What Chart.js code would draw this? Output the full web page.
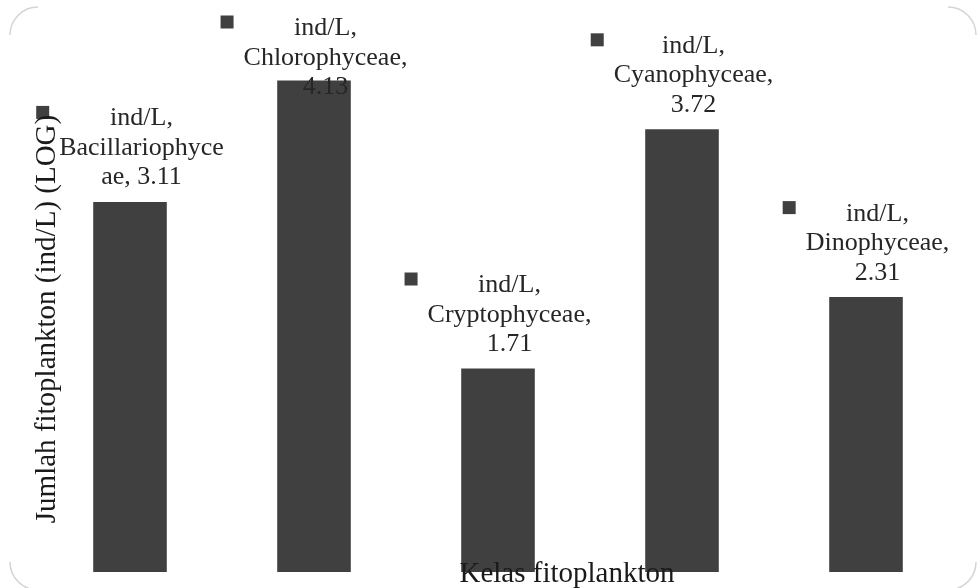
<!DOCTYPE html>
<html>
<head>
<meta charset="utf-8">
<script src="https://cdn.jsdelivr.net/npm/chart.js@4.4.1/dist/chart.umd.min.js"></script>
<style>
  html, body { margin: 0; padding: 0; background: #fff; }
  #wrap { width: 977px; height: 588px; }
</style>
</head>
<body>
<div id="wrap"><canvas id="chartKelas" width="977" height="588"></canvas></div>
<script>
// Data
const kelas = ['Bacillariophyceae', 'Chlorophyceae', 'Cryptophyceae', 'Cyanophyceae', 'Dinophyceae'];
const nilaiLog = [3.11, 4.13, 1.71, 3.72, 2.31];
const namaSeri = 'ind/L';
const judulY = 'Jumlah fitoplankton (ind/L) (LOG)';
const judulX = 'Kelas fitoplankton';

const warnaBatang = '#404040';
const fontLabel = '26px "Liberation Serif", "Times New Roman", serif';
const fontJudul = '29px "Liberation Serif", "Times New Roman", serif';

// Pecah teks label seperti Excel (kata terlalu panjang dipotong)
function wrapText(ctx, text, maxW) {
    const words = text.split(' ');
    const lines = [];
    let cur = '';
    words.forEach(w => {
        const test = cur ? cur + ' ' + w : w;
        if (ctx.measureText(test).width <= maxW) {
            cur = test;
            return;
        }
        if (cur) { lines.push(cur); cur = ''; }
        // kata sendiri terlalu panjang
        let piece = '';
        for (const ch of w) {
            if (ctx.measureText(piece + ch).width > maxW && piece) {
                lines.push(piece);
                piece = ch;
            } else {
                piece += ch;
            }
        }
        cur = piece;
    });
    if (cur) lines.push(cur);
    return lines;
}

const labelPlugin = {
    id: 'labelKelas',
    afterDatasetsDraw(chart) {
        const ctx = chart.ctx;
        const area = chart.chartArea;
        const meta = chart.getDatasetMeta(0);
        ctx.save();

        // label data
        ctx.font = fontLabel;
        ctx.fillStyle = '#262626';
        ctx.textAlign = 'center';
        ctx.textBaseline = 'alphabetic';
        const lineH = 29.5, box = 13, gap = 10;
        meta.data.forEach((bar, i) => {
            const text = namaSeri + ', ' + kelas[i] + ', ' + nilaiLog[i];
            const lines = wrapText(ctx, text, 170);
            const maxW = Math.max(...lines.map(l => ctx.measureText(l).width));
            const blockW = box + gap + maxW;
            const left = bar.x - blockW / 2;
            const textX = left + box + gap + maxW / 2;
            let firstBase = bar.y - 17.5 - lineH * (lines.length - 1);
            firstBase = Math.max(firstBase, 35);
            ctx.fillStyle = warnaBatang;
            ctx.fillRect(left, firstBase - 13 - box / 2, box, box);
            ctx.fillStyle = '#262626';
            lines.forEach((l, k) => ctx.fillText(l, textX, firstBase + k * lineH));
        });

        // judul sumbu
        ctx.font = fontJudul;
        ctx.fillStyle = '#1a1a1a';
        ctx.fillText(judulX, area.left + 529, 582);
        ctx.save();
        ctx.translate(area.left + 17, 319);
        ctx.rotate(-Math.PI / 2);
        ctx.fillText(judulY, 0, 0);
        ctx.restore();

        // sudut bingkai membulat (samar)
        ctx.strokeStyle = '#d4d4d4';
        ctx.lineWidth = 1.5;
        const r = 28;
        const corners = [
            [10 + r, 7 + r, Math.PI, Math.PI * 1.5],
            [976 - r, 7 + r, Math.PI * 1.5, Math.PI * 2],
            [10 + r, 590 - r, Math.PI * 0.5, Math.PI],
            [976 - r, 590 - r, 0, Math.PI * 0.5]
        ];
        corners.forEach(c => {
            ctx.beginPath();
            ctx.arc(c[0], c[1], r, c[2], c[3]);
            ctx.stroke();
        });
        ctx.restore();
    }
};

const ctxKelas = document.getElementById('chartKelas').getContext('2d');
new Chart(ctxKelas, {
    type: 'bar',
    data: {
        labels: kelas,
        datasets: [{
            label: namaSeri,
            data: nilaiLog,
            backgroundColor: warnaBatang,
            borderWidth: 0,
            barPercentage: 0.4,
            categoryPercentage: 1.0
        }]
    },
    options: {
        responsive: false,
        animation: false,
        layout: {
            padding: { left: 38, right: 19, top: 36.5, bottom: 16 }
        },
        plugins: {
            legend: { display: false },
            tooltip: { enabled: false }
        },
        scales: {
            x: { display: false },
            y: { display: false, min: 0, max: 4.5 }
        }
    },
    plugins: [labelPlugin]
});
</script>
</body>
</html>
